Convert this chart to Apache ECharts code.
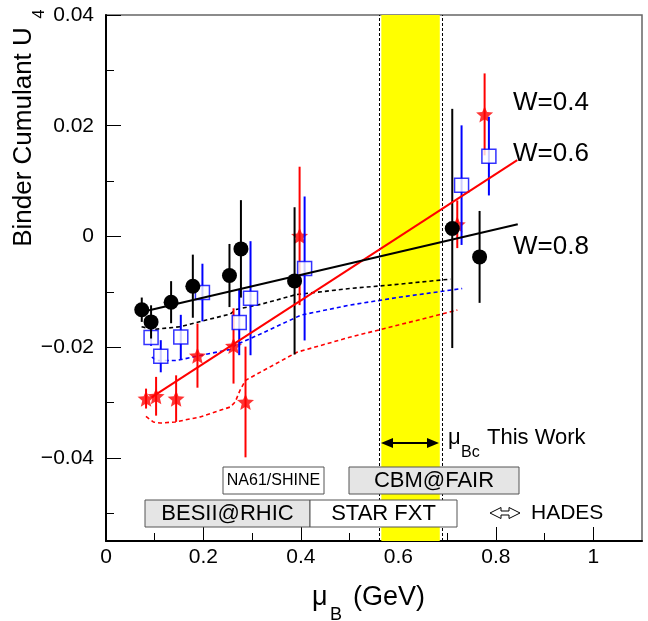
<!DOCTYPE html>
<html><head><meta charset="utf-8">
<script src="https://cdn.jsdelivr.net/npm/echarts@6/dist/echarts.min.js"></script>
<style>html,body{margin:0;padding:0;background:#fff}#c{width:648px;height:621px}</style>
</head><body><div id="c"></div>
<script>
const FONT = '"Liberation Sans", Arial, Helvetica, sans-serif';

// ---- data ----
// W = 0.8 (black circles)
const w08X   = [0.0734, 0.0925, 0.1336, 0.1782, 0.2534, 0.2769, 0.3870, 0.7106, 0.7667];
const w08Y   = [-0.01323, -0.01543, -0.01187, -0.00898, -0.00705, -0.00224, -0.00802, 0.00145, -0.00369];
const w08Err = [0.0022, 0.0030, 0.0038, 0.0057, 0.0057, 0.0088, 0.0133, 0.0216, 0.0083];
// W = 0.6 (blue open squares)
const w06X   = [0.0925, 0.1124, 0.1535, 0.1979, 0.2734, 0.2966, 0.4076, 0.7297, 0.7858];
const w06Y   = [-0.01825, -0.02163, -0.01815, -0.01012, -0.01554, -0.01115, -0.00578, 0.00927, 0.01451];
const w06Err = [0.0015, 0.0029, 0.0040, 0.0052, 0.0059, 0.0103, 0.0130, 0.0108, 0.0071];
// W = 0.4 (red stars)
const w04X   = [0.0822, 0.1028, 0.1439, 0.1877, 0.2617, 0.2863, 0.3973, 0.7209, 0.7770];
const w04Y   = [-0.02928, -0.02886, -0.02928, -0.02151, -0.01977, -0.02989, 0.0001, 0.0022, 0.02205];
const w04Err = [0.0018, 0.0035, 0.0042, 0.0058, 0.0068, 0.0100, 0.0125, 0.0043, 0.0074];

// linear fits (solid)
const fit08 = [[0.080, -0.0135], [0.845, 0.0022]];
const fit04 = [[0.094, -0.0290], [0.844, 0.0138]];

// dashed curves
const dash08 = [[0.073,-0.0163],[0.097,-0.0168],[0.152,-0.0163],[0.255,-0.0140],[0.266,-0.0132],[0.32,-0.0122],[0.39,-0.0105],[0.50,-0.0094],[0.58,-0.0088],[0.707,-0.0077]];
const dash06 = [[0.094,-0.0218],[0.104,-0.0224],[0.145,-0.0224],[0.193,-0.0215],[0.255,-0.0204],[0.266,-0.0196],[0.32,-0.0175],[0.40,-0.0142],[0.50,-0.0124],[0.60,-0.0110],[0.731,-0.0094]];
const dash04 = [[0.082,-0.0325],[0.097,-0.0335],[0.111,-0.0337],[0.142,-0.0335],[0.193,-0.0326],[0.255,-0.0308],[0.265,-0.0299],[0.275,-0.0278],[0.286,-0.0260],[0.317,-0.0245],[0.392,-0.0209],[0.50,-0.0182],[0.60,-0.0160],[0.721,-0.0133]];

// mu_Bc band
const bandRange = [0.565, 0.685];

// axis ticks
const xRange = [0, 1.1];
const yRange = [-0.055, 0.04];
const xTickLabels = [0, 0.2, 0.4, 0.6, 0.8, 1];
const xMinorTicks = [0.1, 0.3, 0.5, 0.7, 0.9];
const yTickLabels = [-0.04, -0.02, 0, 0.02, 0.04];
const yMinorTicks = [-0.05, -0.03, -0.01, 0.01, 0.03];

const STAR = 'path://M100,0L126.45,63.6L195.1,69.1L142.8,113.9L158.78,180.9L100,145L41.22,180.9L57.2,113.9L4.9,69.1L73.55,63.6Z';

function pts(xs, ys, es) { return xs.map((x, i) => es ? [x, ys[i], es[i]] : [x, ys[i]]); }

function errSeries(xs, ys, es, color, z) {
  return {
    type: 'custom', z: z, silent: true,
    data: pts(xs, ys, es),
    encode: { x: 0, y: 1 },
    renderItem: function (params, api) {
      const x = api.value(0), y = api.value(1), e = api.value(2);
      const a = api.coord([x, y + e]);
      const b = api.coord([x, y - e]);
      return { type: 'line', shape: { x1: a[0], y1: a[1], x2: b[0], y2: b[1] },
               style: { stroke: color, lineWidth: 2 } };
    }
  };
}

function fmtY(v) {
  if (Math.abs(v) < 1e-9) return '0';
  return (v < 0 ? '\u2212' : '') + Math.abs(v).toFixed(2);
}
function fmtX(v) {
  if (Math.abs(v) < 1e-9) return '0';
  if (Math.abs(v - 1) < 1e-9) return '1';
  return v.toFixed(1);
}

const axisBase = { type: 'value', splitLine: { show: false } };

const chart = echarts.init(document.getElementById('c'), null, { renderer: 'canvas' });

function txt(x, y, text, size, align, extra) {
  return Object.assign({
    type: 'text', x: x, y: y, z: 100,
    style: { text: text, font: size + 'px ' + FONT, fill: '#000',
             textAlign: align || 'left', align: align || 'left',
             textVerticalAlign: 'middle', verticalAlign: 'middle' }
  }, extra || {});
}
function box(x, y, w, h, fill, label, size) {
  return [
    { type: 'rect', z: 90, shape: { x: x, y: y, width: w, height: h },
      style: { fill: fill, stroke: '#555', lineWidth: 1 } },
    txt(x + w / 2, y + h / 2 + 0.5, label, size, 'center')
  ];
}

const option = {
  animation: false,
  backgroundColor: '#fff',
  grid: { left: 106, top: 15, right: 6, bottom: 80, show: true, borderColor: '#666', borderWidth: 1.5, backgroundColor: 'transparent' },
  xAxis: [
    Object.assign({}, axisBase, {
      min: xRange[0], max: xRange[1], position: 'bottom',
      axisLine: { show: true, onZero: false, lineStyle: { color: '#000', width: 2 } },
      axisTick: { show: true, inside: true, length: 14, customValues: xTickLabels, lineStyle: { color: '#000', width: 1 } },
      axisLabel: { show: true, customValues: xTickLabels, formatter: fmtX, margin: 6,
                   fontFamily: FONT, fontSize: 21, color: '#000' }
    }),
    Object.assign({}, axisBase, {
      min: xRange[0], max: xRange[1], position: 'bottom', offset: 0,
      axisLine: { show: false, onZero: false },
      axisTick: { show: true, inside: true, length: 8, customValues: xMinorTicks, lineStyle: { color: '#000', width: 1 } },
      axisLabel: { show: false }
    })
  ],
  yAxis: [
    Object.assign({}, axisBase, {
      min: yRange[0], max: yRange[1], position: 'left',
      axisLine: { show: true, onZero: false, lineStyle: { color: '#000', width: 2 } },
      axisTick: { show: true, inside: true, length: 15, customValues: yTickLabels, lineStyle: { color: '#000', width: 1 } },
      axisLabel: { show: true, customValues: yTickLabels, formatter: fmtY, margin: 12,
                   fontFamily: FONT, fontSize: 21, color: '#000' }
    }),
    Object.assign({}, axisBase, {
      min: yRange[0], max: yRange[1], position: 'left', offset: 0,
      axisLine: { show: false, onZero: false },
      axisTick: { show: true, inside: true, length: 8, customValues: yMinorTicks, lineStyle: { color: '#000', width: 1 } },
      axisLabel: { show: false }
    })
  ],
  series: [
    { type: 'line', z: 1, data: [], silent: true,
      markArea: { silent: true, itemStyle: { color: '#ffff00' },
                  data: [[{ xAxis: bandRange[0] }, { xAxis: bandRange[1] }]] },
      markLine: { silent: true, symbol: 'none', label: { show: false },
                  lineStyle: { color: '#000', type: [3, 2], width: 1 },
                  data: [{ xAxis: bandRange[0] }, { xAxis: bandRange[1] }] } },
    { type: 'line', z: 3, data: dash08, showSymbol: false, silent: true, lineStyle: { color: '#000', width: 1.6, type: [4, 3] } },
    { type: 'line', z: 3, data: dash06, showSymbol: false, silent: true, lineStyle: { color: '#0000ff', width: 1.6, type: [4, 3] } },
    { type: 'line', z: 3, data: dash04, showSymbol: false, silent: true, lineStyle: { color: '#ff0000', width: 1.6, type: [4, 3] } },
    errSeries(w04X, w04Y, w04Err, '#ff0000', 4),
    { type: 'scatter', z: 5, data: pts(w04X, w04Y), symbol: STAR, symbolSize: 17, symbolKeepAspect: true,
      itemStyle: { color: '#ff0000' }, silent: true },
    errSeries(w06X, w06Y, w06Err, '#0000ff', 6),
    { type: 'scatter', z: 7, data: pts(w06X, w06Y), symbol: 'rect', symbolSize: 14,
      itemStyle: { color: '#fff', borderColor: '#0000ff', borderWidth: 1.5 }, silent: true },
    errSeries(w08X, w08Y, w08Err, '#000', 8),
    { type: 'scatter', z: 9, data: pts(w08X, w08Y), symbol: 'circle', symbolSize: 15,
      itemStyle: { color: '#000', opacity: 1 }, silent: true },
    { type: 'line', z: 10, data: fit04, showSymbol: false, silent: true, lineStyle: { color: '#ff0000', width: 2 } },
    { type: 'line', z: 10, data: fit08, showSymbol: false, silent: true, lineStyle: { color: '#000', width: 2 } }
  ],
  graphic: [
    // y axis title
    txt(24, 137, 'Binder Cumulant U', 26, 'center', { rotation: Math.PI / 2 }),
    txt(40, 14, '4', 16, 'center', { rotation: Math.PI / 2 }),
    // x axis title
    txt(312, 598, '\u03bc', 27, 'left'),
    txt(330, 615, 'B', 18, 'left'),
    txt(353, 598, '(GeV)', 27, 'left'),
    // W labels
    txt(513, 103, 'W=0.4', 26, 'left'),
    txt(513, 154, 'W=0.6', 26, 'left'),
    txt(513, 247, 'W=0.8', 26, 'left'),
    // mu_Bc arrow
    { type: 'line', z: 100, shape: { x1: 390, y1: 443, x2: 430, y2: 443 }, style: { stroke: '#000', lineWidth: 2 } },
    { type: 'polygon', z: 100, shape: { points: [[381, 443], [393, 438], [393, 448]] }, style: { fill: '#000' } },
    { type: 'polygon', z: 100, shape: { points: [[439, 443], [427, 438], [427, 448]] }, style: { fill: '#000' } },
    txt(448, 438, '\u03bc', 22, 'left'),
    txt(461, 453, 'Bc', 16, 'left'),
    txt(487, 438, 'This Work', 22, 'left'),
    // experiment boxes
    ...box(223, 467, 101, 27, '#fff', 'NA61/SHINE', 16),
    ...box(349, 467, 170, 27, '#e5e5e5', 'CBM@FAIR', 22),
    ...box(145, 500, 165, 27, '#e5e5e5', 'BESII@RHIC', 22),
    ...box(310, 500, 147, 27, '#fff', 'STAR FXT', 22),
    // HADES
    { type: 'polygon', z: 100, shape: { points: [[490, 513], [501, 507.5], [501, 511], [509, 511], [509, 507.5], [520, 513], [509, 518.5], [509, 515], [501, 515], [501, 518.5]] },
      style: { fill: 'none', stroke: '#000', lineWidth: 1 } },
    txt(531, 513, 'HADES', 21, 'left')
  ]
};
chart.setOption(option);
</script>
</body></html>
